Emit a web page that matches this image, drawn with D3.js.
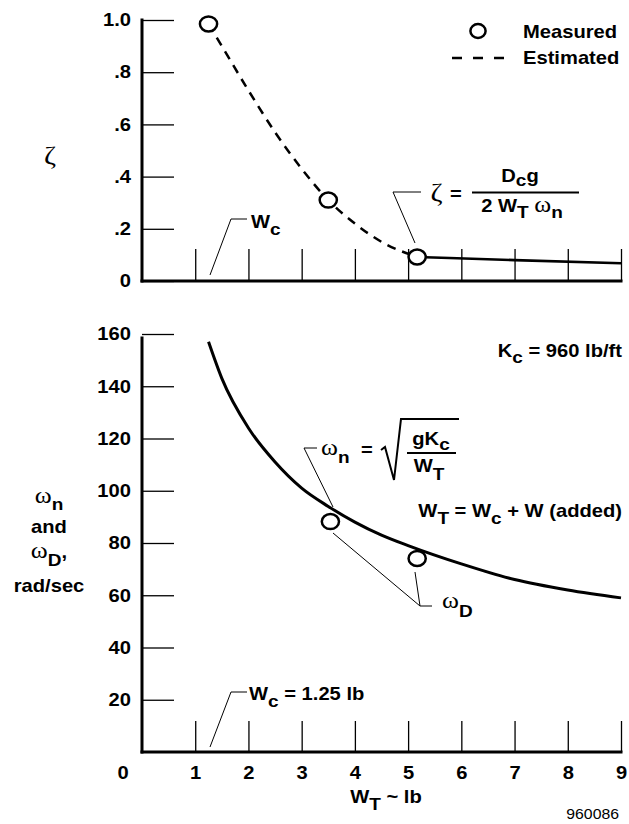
<!DOCTYPE html>
<html>
<head>
<meta charset="utf-8">
<script src="https://cdn.jsdelivr.net/npm/d3@7"></script>
<style>
  body { margin: 0; background: #fff; }
  svg { display: block; background: #fff; }
  text {
    font-family: "Liberation Sans", Arial, Helvetica, sans-serif;
    font-weight: bold;
    font-size: 18px;
    fill: #000;
    white-space: pre;
  }
  .greek { font-family: "Liberation Serif", "DejaVu Serif", serif; font-weight: normal; }
</style>
</head>
<body>
<svg id="chart" width="629" height="824"></svg>
<script>
/* DATA */
// tick values and labels
const xTicks = [1, 2, 3, 4, 5, 6, 7, 8, 9];
const zetaTicks = [0, 0.2, 0.4, 0.6, 0.8, 1.0];
const zetaTickLabels = ["0", ".2", ".4", ".6", ".8", "1.0"];
const omegaTicks = [20, 40, 60, 80, 100, 120, 140, 160];

// damping ratio, measured points (W_T lb, zeta)
const zetaMeasW = [1.25, 3.5, 5.17];
const zetaMeas = [0.985, 0.31, 0.092];

// damping ratio, estimated (dashed)
const zetaEstW = [1.25, 1.5, 2, 2.5, 3, 3.5, 4, 4.5, 5.17];
const zetaEst = [0.985, 0.90, 0.73, 0.57, 0.43, 0.31, 0.22, 0.15, 0.092];

// damping ratio, from formula (solid)
const zetaCalcW = [5.17, 7, 9];
const zetaCalc = [0.092, 0.080, 0.068];

// natural frequency curve (rad/sec)
const omegaNW = [1.25, 1.5, 2, 2.5, 3, 3.5, 4, 4.5, 5, 6, 7, 8, 9];
const omegaN = [157, 143, 124, 111, 101, 94, 88, 83, 79, 72, 66, 62, 59];

// damped frequency, measured points
const omegaDW = [3.54, 5.17];
const omegaD = [88.2, 74.1];

const pairs = (xs, ys) => xs.map((d, i) => [d, ys[i]]);

/* SETUP */
const SX = 1.12; // the source lettering is a bit wide
const svg = d3.select("#chart");

const x = d3.scaleLinear().domain([0, 9]).range([142, 621]);
const yZeta = d3.scaleLinear().domain([0, 1]).range([281, 20]);
const yOmega = d3.scaleLinear().domain([0, 160]).range([752, 334]);

// text helper: parts are strings or {t, sub, greek, size}
function label(px, py, parts, opt = {}) {
  const t = svg.append("text")
    .attr("transform", `translate(${px},${py}) scale(${opt.sx || SX},1)`)
    .attr("text-anchor", opt.anchor || "start");
  if (opt.size) t.style("font-size", opt.size + "px");
  if (opt.weight) t.style("font-weight", opt.weight);
  const subShift = opt.sub || 7;
  let shift = 0;
  parts.forEach(p => {
    if (typeof p === "string") p = {t: p};
    const s = t.append("tspan").text(p.t);
    const target = p.sub ? subShift : 0;
    if (target !== shift) { s.attr("dy", target - shift); shift = target; }
    if (p.sub) s.style("font-size", "17px");
    if (p.greek) s.attr("class", "greek").style("font-size", (p.size || 23) + "px");
  });
  return t;
}

function leader(points, w = 1) {
  svg.append("path")
    .attr("d", d3.line()(points))
    .attr("fill", "none")
    .attr("stroke", "#000")
    .attr("stroke-width", w);
}

/* AXES */
function styleAxis(g) {
  g.select(".domain").remove();
  g.selectAll(".tick line").attr("stroke", "#000").attr("stroke-width", 1.3);
}

// top panel
svg.append("g")
  .attr("transform", `translate(${x(0)},0)`)
  .call(d3.axisLeft(yZeta).tickValues(zetaTicks)
    .tickFormat((d, i) => zetaTickLabels[i])
    .tickSizeInner(-32).tickSizeOuter(0).tickPadding(11))
  .call(styleAxis)
  .call(g => g.selectAll(".tick text").attr("transform", `scale(${SX},1)`).attr("x", -11 / SX));

svg.append("g")
  .attr("transform", `translate(0,${yZeta(0)})`)
  .call(d3.axisBottom(x).tickValues(xTicks).tickFormat("")
    .tickSizeInner(-32).tickSizeOuter(0))
  .call(styleAxis);

// bottom panel
svg.append("g")
  .attr("transform", `translate(${x(0)},0)`)
  .call(d3.axisLeft(yOmega).tickValues(omegaTicks)
    .tickSizeInner(-32).tickSizeOuter(0).tickPadding(11))
  .call(styleAxis)
  .call(g => g.selectAll(".tick text").attr("transform", `scale(${SX},1)`).attr("x", -11 / SX));

svg.append("g")
  .attr("transform", `translate(0,${yOmega(0)})`)
  .call(d3.axisBottom(x).tickValues(xTicks)
    .tickSizeInner(-31).tickSizeOuter(0).tickPadding(14))
  .call(styleAxis)
  .call(g => g.selectAll(".tick text").attr("transform", `scale(${SX},1)`));

// heavy axis lines
const axisLines = [
  [[x(0), yZeta(1)], [x(0), yZeta(0)]],
  [[x(0), yZeta(0)], [x(9), yZeta(0)]],
  [[x(0), yOmega(158.5)], [x(0), yOmega(0)]],
  [[x(0), yOmega(0)], [x(9), yOmega(0)]]
];
svg.selectAll("path.axis-line")
  .data(axisLines)
  .join("path")
  .attr("class", "axis-line")
  .attr("d", d => d3.line()(d))
  .attr("stroke", "#000")
  .attr("stroke-width", 3)
  .attr("stroke-linecap", "square")
  .attr("fill", "none");

// origin label shared by the bottom panel
label(123, 779, ["0"], {anchor: "middle"});

/* LINES */
const lineZeta = d3.line().x(d => x(d[0])).y(d => yZeta(d[1])).curve(d3.curveMonotoneX);
const lineOmega = d3.line().x(d => x(d[0])).y(d => yOmega(d[1])).curve(d3.curveMonotoneX);

svg.append("path")
  .datum(pairs(zetaEstW, zetaEst))
  .attr("d", lineZeta)
  .attr("fill", "none")
  .attr("stroke", "#000")
  .attr("stroke-width", 2.5)
  .attr("stroke-dasharray", "9,7");

svg.append("path")
  .datum(pairs(zetaCalcW, zetaCalc))
  .attr("d", lineZeta)
  .attr("fill", "none")
  .attr("stroke", "#000")
  .attr("stroke-width", 2.6);

svg.append("path")
  .datum(pairs(omegaNW, omegaN))
  .attr("d", lineOmega)
  .attr("fill", "none")
  .attr("stroke", "#000")
  .attr("stroke-width", 3);

/* POINTS */
svg.selectAll("ellipse.zeta-pt")
  .data(pairs(zetaMeasW, zetaMeas))
  .join("ellipse")
  .attr("class", "zeta-pt")
  .attr("cx", d => x(d[0]))
  .attr("cy", d => yZeta(d[1]))
  .attr("rx", 8.6).attr("ry", 7.5)
  .attr("fill", "#fff")
  .attr("stroke", "#000")
  .attr("stroke-width", 2.5);

svg.selectAll("ellipse.omega-pt")
  .data(pairs(omegaDW, omegaD))
  .join("ellipse")
  .attr("class", "omega-pt")
  .attr("cx", d => x(d[0]))
  .attr("cy", d => yOmega(d[1]))
  .attr("rx", 8.6).attr("ry", 7.5)
  .attr("fill", "#fff")
  .attr("stroke", "#000")
  .attr("stroke-width", 2.5);

/* LEGEND */
svg.append("ellipse")
  .attr("cx", 478).attr("cy", 31).attr("rx", 7.6).attr("ry", 7)
  .attr("fill", "#fff").attr("stroke", "#000").attr("stroke-width", 2.5);
svg.append("line")
  .attr("x1", 452).attr("x2", 505).attr("y1", 58).attr("y2", 58)
  .attr("stroke", "#000").attr("stroke-width", 2.5)
  .attr("stroke-dasharray", "10,11");
label(523, 38, ["Measured"]);
label(523, 64, ["Estimated"]);

/* AXIS TITLES */
label(50, 164, [{t: "ζ", greek: true, size: 26}], {anchor: "middle"});
label(49, 503, [{t: "ω", greek: true}, {t: "n", sub: true}], {anchor: "middle"});
label(49, 533, ["and"], {anchor: "middle"});
label(49, 558, [{t: "ω", greek: true}, {t: "D", sub: true}, ","], {anchor: "middle", sub: 8});
label(49, 592, ["rad/sec"], {anchor: "middle"});
label(386, 803, ["W", {t: "T", sub: true}, " ~ lb"], {anchor: "middle"});
label(619, 819, ["960086"], {anchor: "end", size: 14, weight: "normal", sx: 1.13});

/* ANNOTATIONS, top panel */
leader([[210, 275], [231, 219], [247, 219]]);
label(251, 228, ["W", {t: "c", sub: true}]);

leader([[415, 243], [393, 192], [421, 192]]);
label(436.5, 201, [{t: "ζ", greek: true, size: 26}], {anchor: "middle"});
label(456, 200, ["="], {anchor: "middle"});
leader([[472, 192.5], [579, 192.5]], 2);
label(520, 182, ["D", {t: "c", sub: true}, "g"], {anchor: "middle", sub: 4});
label(522, 212, ["2 W", {t: "T", sub: true}, " ", {t: "ω", greek: true}, {t: "n", sub: true}],
  {anchor: "middle", sub: 6});

/* ANNOTATIONS, bottom panel */
label(622, 357, ["K", {t: "c", sub: true}, " = 960 lb/ft"], {anchor: "end", sub: 6});

leader([[333, 507], [304, 448], [317, 448]]);
label(321, 455, [{t: "ω", greek: true}, {t: "n", sub: true}], {sub: 8});
label(367, 456, ["="], {anchor: "middle"});
leader([[381, 450], [385, 447], [394, 480], [401, 419], [459, 419]], 2);
leader([[407, 453], [456, 453]], 2);
label(431, 445, ["gK", {t: "c", sub: true}], {anchor: "middle", sub: 5});
label(429, 472, ["W", {t: "T", sub: true}], {anchor: "middle", sub: 8});

label(622, 517, ["W", {t: "T", sub: true}, " = W", {t: "c", sub: true}, " + W (added)"], {anchor: "end"});

leader([[333, 533], [420, 606], [432, 606]]);
leader([[415, 572], [420, 606]]);
label(442, 608, [{t: "ω", greek: true}, {t: "D", sub: true}], {sub: 9});

leader([[210, 747], [231, 692], [247, 692]]);
label(249, 700, ["W", {t: "c", sub: true}, " = 1.25 lb"]);
</script>
</body>
</html>
